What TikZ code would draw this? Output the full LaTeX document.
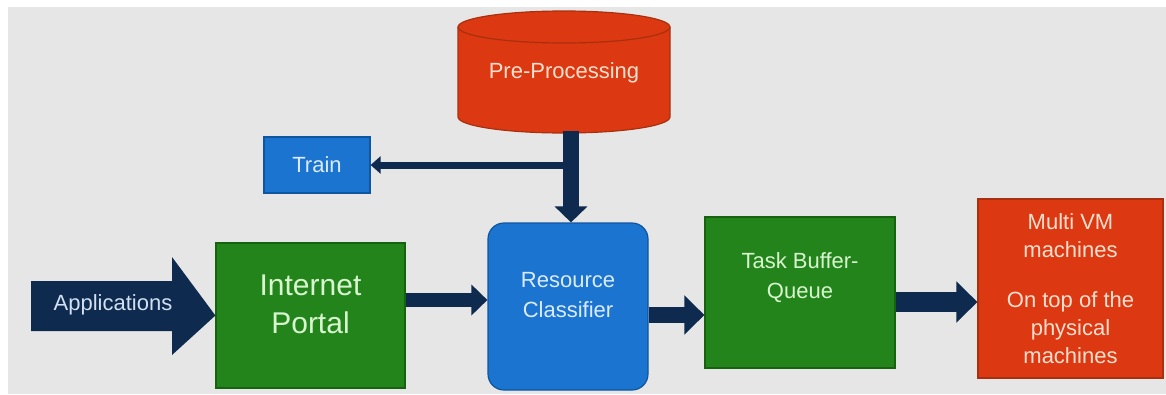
\documentclass[tikz,border=0pt]{standalone}
\usepackage{fontspec}
\setmainfont{Liberation Sans}
\usetikzlibrary{arrows.meta,calc}

\definecolor{bgray}{HTML}{E6E6E6}
\definecolor{navy}{HTML}{0E2A4E}
\definecolor{boxgreen}{HTML}{22841A}
\definecolor{edgegreen}{HTML}{17620F}
\definecolor{boxblue}{HTML}{1B74CF}
\definecolor{edgeblue}{HTML}{0F56A0}
\definecolor{boxred}{HTML}{DC3912}
\definecolor{edgered}{HTML}{A9300E}
\definecolor{txtgreen}{HTML}{D9F5CF}
\definecolor{txtblue}{HTML}{DCEBFB}
\definecolor{txtred}{HTML}{FCE0CF}
\definecolor{txtnavy}{HTML}{D2E0F2}

\tikzset{
  box/.style={draw, line width=1.2pt, inner sep=0pt},
  greenbox/.style={box, fill=boxgreen, draw=edgegreen},
  bluebox/.style={box, fill=boxblue, draw=edgeblue},
  redbox/.style={box, fill=boxred, draw=edgered},
  lbl/.style={font=\fontsize{22}{30}\selectfont, align=center, inner sep=0pt},
  flow/.style={draw=navy, line width=#1},
}

\begin{document}
\begin{tikzpicture}[x=1pt, y=-1pt]
  % canvas
  \useasboundingbox (0,0) rectangle (1166,394);
  \fill[white] (0,0) rectangle (1166,394);
  \fill[bgray] (8,7) rectangle (1166,394);

  % boxes
  \node[bluebox, minimum width=106pt, minimum height=56pt] (train) at (317,165) {};
  \node[lbl, text=txtblue] (train-t) at (train.center) {Train};

  \node[greenbox, minimum width=189pt, minimum height=145pt] (portal) at (310.5,315.5) {};
  \node[lbl, text=txtgreen, font=\fontsize{30}{38}\selectfont] (portal-t)
       at ($(portal.center)+(0,-11.5)$) {Internet\\Portal};

  \node[bluebox, rounded corners=16pt, minimum width=160pt, minimum height=167pt] (cls) at (568,306.5) {};
  \node[lbl, text=txtblue] (cls-t) at ($(cls.center)+(0,-11.5)$) {Resource\\Classifier};

  \node[greenbox, minimum width=190pt, minimum height=151pt] (task) at (800,292.5) {};
  \node[lbl, text=txtgreen] (task-t) at ($(task.center)+(0,-15)$) {Task Buffer-\\Queue};

  \node[redbox, minimum width=185pt, minimum height=179pt] (multi) at (1070.5,288.5) {};
  \node[lbl, text=txtred, font=\fontsize{22}{28}\selectfont] (multi-t) at (multi.center)
       {Multi VM\\machines\\[22pt]On top of the\\physical\\machines};

  % pre-processing store
  \fill[boxred] (458,27) -- (458,117)
    arc[start angle=180, end angle=0, x radius=106, y radius=16]
    -- (670,27)
    arc[start angle=0, end angle=-180, x radius=106, y radius=16] -- cycle;
  \draw[edgered, line width=1.2pt] (458,27) -- (458,117)
    arc[start angle=180, end angle=0, x radius=106, y radius=16]
    -- (670,27);
  \draw[edgered, line width=1.2pt] (564,27) ellipse[x radius=106, y radius=16];
  \coordinate (pre-bottom) at (571,131);
  \node[lbl, text=txtred] (pre) at (564,73) {Pre-Processing};

  % applications block arrow
  \fill[navy] (31,281) -- (172,281) -- (172,257) -- (portal.west) -- (172,355) -- (172,331) -- (31,331) -- cycle;
  \node[lbl, text=txtnavy] (apps) at (113,305) {Applications};

  % connectors
  \coordinate (split) at (pre-bottom |- train.east);
  \draw[flow=16pt, -{Triangle[width=32pt, length=16pt]}] (pre-bottom) -- (pre-bottom |- cls.north);
  \draw[flow=7pt, -{Triangle[width=17pt, length=10pt]}] (split) -- (train.east);
  \draw[flow=14pt, -{Triangle[width=30pt, length=16pt]}] (portal.east |- 0,300) -- (cls.west |- 0,300);
  \draw[flow=16pt, -{Triangle[width=38pt, length=20pt]}] (cls.east |- 0,315) -- (task.west |- 0,315);
  \draw[flow=20pt, -{Triangle[width=40pt, length=21pt]}] (task.east |- 0,302) -- (multi.west |- 0,302);
\end{tikzpicture}
\end{document}
